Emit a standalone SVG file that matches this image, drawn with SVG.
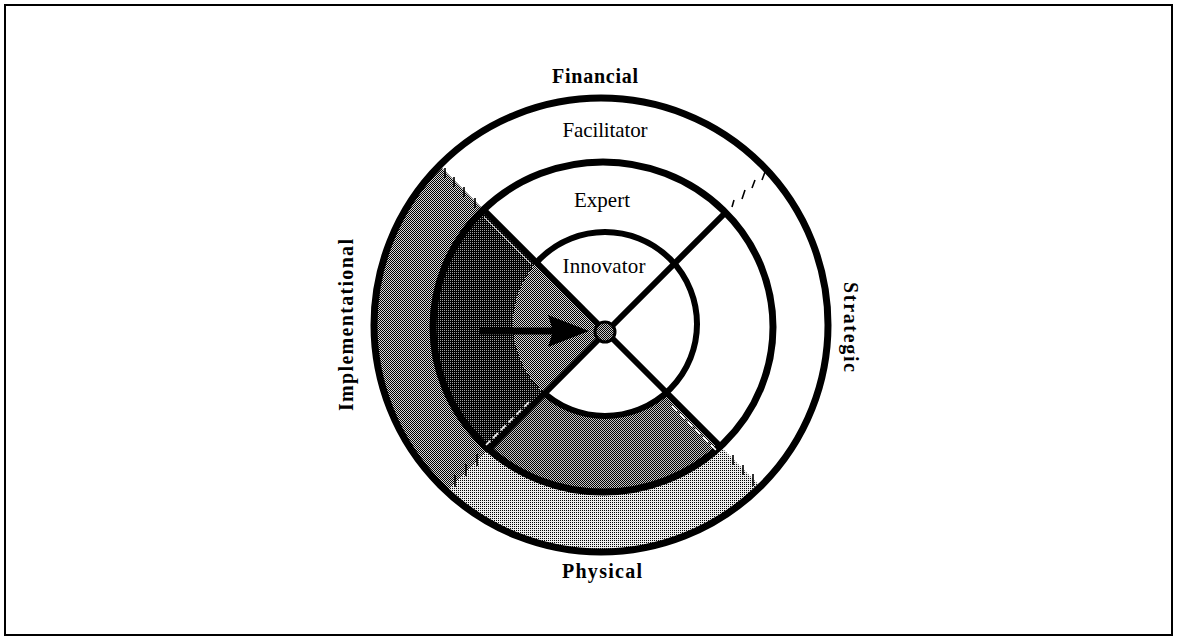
<svg xmlns="http://www.w3.org/2000/svg" width="1178" height="642" viewBox="0 0 1178 642">
  <style>
    .ring { fill: none; stroke: #000; }
    .spoke { stroke: #000; stroke-width: 6; stroke-linecap: butt; }
    .tick { stroke: #000; stroke-width: 1.6; fill: none; }
    .gap { stroke: #fff; stroke-width: 1.6; fill: none; stroke-dasharray: 7 4; }
    .lbl { font-family: "Liberation Serif", "Times New Roman", serif; font-size: 21px; fill: #000; }
    .axis { font-family: "Liberation Serif", "Times New Roman", serif; font-size: 20px; font-weight: bold; fill: #000; }
  </style>
  <defs>
    <!-- halftone screens -->
    <pattern id="pMed" width="2" height="2" patternUnits="userSpaceOnUse">
      <rect width="2" height="2" fill="#d8d8d8"/>
      <rect width="1" height="1" fill="#000"/>
      <rect x="1" y="1" width="1" height="1" fill="#000"/>
    </pattern>
    <pattern id="pMed2" width="2" height="2" patternUnits="userSpaceOnUse">
      <rect width="2" height="2" fill="#c4c4c4"/>
      <rect width="1" height="1" fill="#000"/>
      <rect x="1" y="1" width="1" height="1" fill="#000"/>
    </pattern>
    <pattern id="pDark" width="2" height="2" patternUnits="userSpaceOnUse">
      <rect width="2" height="2" fill="#000"/>
      <rect width="1" height="1" fill="#a0a0a0"/>
    </pattern>
    <pattern id="pLight" width="2" height="2" patternUnits="userSpaceOnUse">
      <rect width="2" height="2" fill="#ececec"/>
      <rect width="1" height="1" fill="#000"/>
    </pattern>
    <!-- quadrant wedges around the hub -->
    <clipPath id="wLeft"><polygon points="606,332 206,-68 206,732"/></clipPath>
    <clipPath id="wBottom"><polygon points="606,332 206,732 1006,732"/></clipPath>
    <clipPath id="wNotLeft"><polygon points="606,332 206,-68 1178,-68 1178,732 206,732"/></clipPath>
    <clipPath id="inMid"><ellipse cx="603" cy="327" rx="170" ry="165"/></clipPath>
  </defs>

  <!-- frame -->
  <rect x="5" y="5" width="1167" height="630" fill="#fff" stroke="#000" stroke-width="2"/>

  <!-- shaded sectors -->
  <g id="shading" shape-rendering="crispEdges">
    <path clip-path="url(#wLeft)" fill="url(#pMed)" fill-rule="evenodd"
          d="M374,325 a227,227 0 1,0 454,0 a227,227 0 1,0 -454,0 Z M433,327 a170,165 0 1,0 340,0 a170,165 0 1,0 -340,0 Z"/>
    <path clip-path="url(#wBottom)" fill="url(#pLight)" fill-rule="evenodd"
          d="M374,325 a227,227 0 1,0 454,0 a227,227 0 1,0 -454,0 Z M433,327 a170,165 0 1,0 340,0 a170,165 0 1,0 -340,0 Z"/>
    <path clip-path="url(#wLeft)" fill="url(#pDark)" fill-rule="evenodd"
          d="M433,327 a170,165 0 1,0 340,0 a170,165 0 1,0 -340,0 Z M513,324 a92,92 0 1,0 184,0 a92,92 0 1,0 -184,0 Z"/>
    <path clip-path="url(#wBottom)" fill="url(#pMed2)" fill-rule="evenodd"
          d="M433,327 a170,165 0 1,0 340,0 a170,165 0 1,0 -340,0 Z M513,324 a92,92 0 1,0 184,0 a92,92 0 1,0 -184,0 Z"/>
    <path clip-path="url(#wLeft)" fill="url(#pMed)"
          d="M513,324 a92,92 0 1,0 184,0 a92,92 0 1,0 -184,0 Z"/>
  </g>

  <!-- rings -->
  <g id="rings">
    <circle id="ring-inner" class="ring" cx="605" cy="324" r="92" stroke-width="6" clip-path="url(#wNotLeft)"/>
    <ellipse id="ring-middle" class="ring" cx="603" cy="327" rx="170" ry="165" stroke-width="7"/>
    <circle id="ring-outer" class="ring" cx="601" cy="325" r="227" stroke-width="7"/>
  </g>

  <!-- connectors: spokes, sector ticks, arrow -->
  <g id="connectors">
    <g clip-path="url(#inMid)">
      <line class="spoke" x1="606" y1="332" x2="456" y2="182"/>
      <line class="spoke" x1="606" y1="332" x2="756" y2="182"/>
      <line class="spoke" x1="606" y1="332" x2="756" y2="482"/>
      <line class="spoke" x1="606" y1="332" x2="456" y2="482"/>
    </g>
    <!-- light edges beside the spokes -->
    <line class="gap" x1="529" y1="402" x2="486" y2="445"/>
    <line class="gap" x1="672" y1="406" x2="720" y2="454"/>
    <line x1="531" y1="264" x2="484" y2="217" stroke="#fff" stroke-width="1" opacity="0.8"/>
    <!-- dashed sector limits across the outer ring -->
    <path class="tick" d="M445,168 v10 M454,177 v10 M464,187 v10 M475,198 v10"/>
    <path class="tick" d="M762,180 l3,-8 M752,188 l3,-8 M742,199 l3,-9 M732,207 l2,-7"/>
    <path class="tick" d="M733,455 v10 M743,465 v10 M753,474 v12"/>
    <path class="tick" d="M477,454 v12 M466,464 v12 M455,475 v12"/>
    <!-- arrow into the hub -->
    <line x1="480" y1="331" x2="556" y2="331" stroke="#000" stroke-width="7"/>
    <polygon points="589,331 548,315 553,331 548,347" fill="#000"/>
  </g>

  <g id="hub">
    <circle cx="605" cy="332" r="10" fill="url(#pMed2)" stroke="#000" stroke-width="3"/>
  </g>

  <g id="label-financial"><text class="axis" x="595" y="83" text-anchor="middle" textLength="86" lengthAdjust="spacing">Financial</text></g>
  <g id="label-physical"><text class="axis" x="602" y="578" text-anchor="middle" textLength="80" lengthAdjust="spacing">Physical</text></g>
  <g id="label-implementational"><text class="axis" transform="translate(353,325) rotate(-90)" x="0" y="0" text-anchor="middle" textLength="172" lengthAdjust="spacing">Implementational</text></g>
  <g id="label-strategic"><text class="axis" transform="translate(844,327) rotate(90)" x="0" y="0" text-anchor="middle" textLength="90" lengthAdjust="spacing">Strategic</text></g>
  <g id="node-facilitator"><text class="lbl" x="605" y="137" text-anchor="middle" textLength="85" lengthAdjust="spacing">Facilitator</text></g>
  <g id="node-expert"><text class="lbl" x="602" y="207" text-anchor="middle" textLength="56" lengthAdjust="spacing">Expert</text></g>
  <g id="node-innovator"><text class="lbl" x="604" y="273" text-anchor="middle" textLength="83" lengthAdjust="spacing">Innovator</text></g>
</svg>
